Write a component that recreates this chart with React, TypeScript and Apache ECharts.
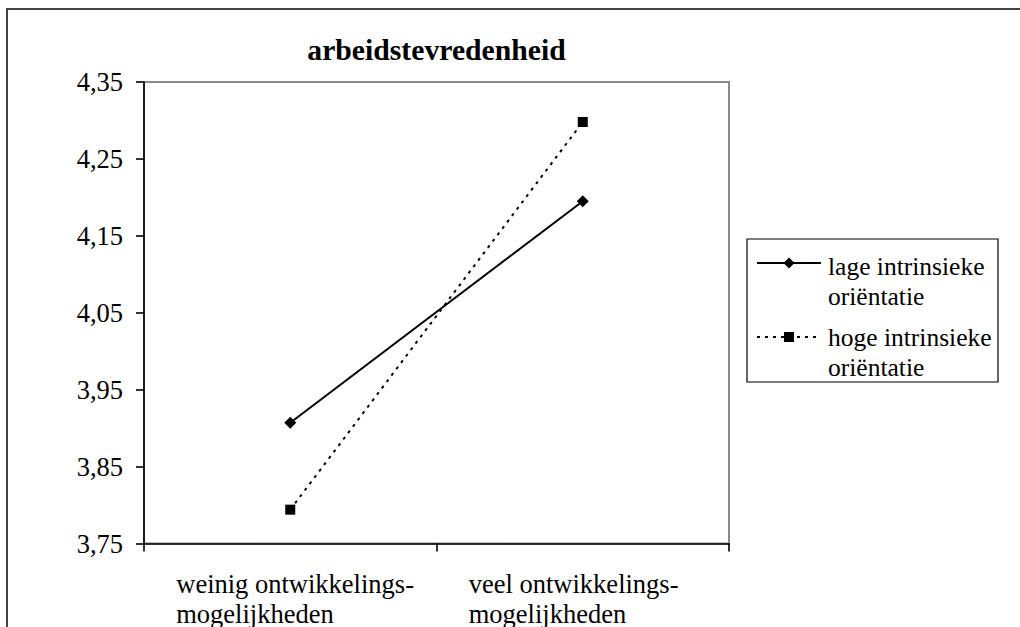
import React, { useEffect, useRef } from "react";
import * as echarts from "echarts";

const title = "arbeidstevredenheid";
const categories = ["weinig ontwikkelings-\nmogelijkheden", "veel ontwikkelings-\nmogelijkheden"];
const seriesNames = ["lage intrinsieke oriëntatie", "hoge intrinsieke oriëntatie"];
const legendLabels = ["lage intrinsieke\noriëntatie", "hoge intrinsieke\noriëntatie"];
const lageValues = [3.907, 4.195];
const hogeValues = [3.794, 4.298];
const yTicks = [3.75, 3.85, 3.95, 4.05, 4.15, 4.25, 4.35];
const yMin = 3.75;
const yMax = 4.35;

const FONT = "'Liberation Serif', 'Times New Roman', serif";

export default function App() {
  const ref = useRef<HTMLDivElement>(null);
  useEffect(() => {
    document.body.style.margin = "0";
    if (!ref.current) return;
    const chart = echarts.init(ref.current, undefined, { renderer: "svg" });
    const option: any = {
      animation: false,
      backgroundColor: "#ffffff",
      textStyle: { fontFamily: FONT, color: "#000" },
      title: {
        text: title,
        left: 436.5,
        top: 33,
        padding: 0,
        textAlign: "center",
        textStyle: { fontFamily: FONT, fontSize: 29.7, fontWeight: "bold", color: "#000", lineHeight: 34 },
      },
      grid: {
        left: 144,
        top: 82,
        right: 291,
        bottom: 83,
        show: true,
        borderColor: "#8a8a8a",
        borderWidth: 2,
        backgroundColor: "#fff",
      },
      xAxis: {
        type: "category",
        data: categories,
        boundaryGap: true,
        axisLine: { show: true, lineStyle: { color: "#000", width: 1.6 } },
        axisTick: { show: true, length: 8, interval: 0, alignWithLabel: false, lineStyle: { color: "#000", width: 1.6 } },
        axisLabel: {
          interval: 0,
          margin: 25,
          formatter: (v: string) => v.split("\n").map((s) => "{a|" + s + "}").join("\n"),
          rich: {
            a: { fontFamily: FONT, fontSize: 26.5, color: "#000", lineHeight: 30, width: 228, align: "left" },
          },
        },
        splitLine: { show: false },
      },
      yAxis: {
        type: "value",
        min: yMin,
        max: yMax,
        axisLine: { show: true, lineStyle: { color: "#000", width: 1.6 } },
        axisTick: { show: true, length: 8, customValues: yTicks, lineStyle: { color: "#000", width: 1.6 } },
        axisLabel: {
          customValues: yTicks,
          margin: 21,
          fontFamily: FONT,
          fontSize: 26.5,
          color: "#000",
          formatter: (v: number) => v.toFixed(2).replace(".", ","),
        },
        splitLine: { show: false },
      },
      series: [
        {
          name: seriesNames[0],
          type: "line",
          data: lageValues,
          symbol: "diamond",
          symbolSize: 12,
          itemStyle: { color: "#000" },
          lineStyle: { color: "#000", width: 2, type: "solid" },
        },
        {
          name: seriesNames[1],
          type: "line",
          data: hogeValues,
          symbol: "rect",
          symbolSize: 10,
          itemStyle: { color: "#000" },
          lineStyle: { color: "#000", width: 2, type: [3, 5] },
        },
      ],
      graphic: [
        {
          type: "rect",
          silent: true,
          shape: { x: 7, y: 9, width: 1200, height: 800 },
          style: { fill: "none", stroke: "#444", lineWidth: 2 },
        },
        {
          type: "rect",
          silent: true,
          shape: { x: 747, y: 239, width: 251, height: 143 },
          style: { fill: "#fff", stroke: "#000", lineWidth: 1.2 },
        },
        {
          type: "line",
          silent: true,
          shape: { x1: 757, y1: 263, x2: 821, y2: 263 },
          style: { stroke: "#000", lineWidth: 2 },
        },
        {
          type: "polygon",
          silent: true,
          shape: { points: [[789, 257.5], [794.5, 263], [789, 268.5], [783.5, 263]] },
          style: { fill: "#000" },
        },
        {
          type: "text",
          silent: true,
          x: 828,
          y: 251,
          style: {
            text: legendLabels[0],
            fontFamily: FONT,
            fontSize: 25.5,
            lineHeight: 30,
            fill: "#000",
            align: "left",
            verticalAlign: "top",
          },
        },
        {
          type: "line",
          silent: true,
          shape: { x1: 757, y1: 337, x2: 821, y2: 337 },
          style: { stroke: "#000", lineWidth: 2, lineDash: [3, 5] },
        },
        {
          type: "rect",
          silent: true,
          shape: { x: 784, y: 332, width: 10, height: 10 },
          style: { fill: "#000" },
        },
        {
          type: "text",
          silent: true,
          x: 828,
          y: 322,
          style: {
            text: legendLabels[1],
            fontFamily: FONT,
            fontSize: 25.5,
            lineHeight: 30,
            fill: "#000",
            align: "left",
            verticalAlign: "top",
          },
        },
      ],
    };
    chart.setOption(option);
    return () => chart.dispose();
  }, []);
  return <div ref={ref} style={{ width: 1020, height: 627 }} />;
}
